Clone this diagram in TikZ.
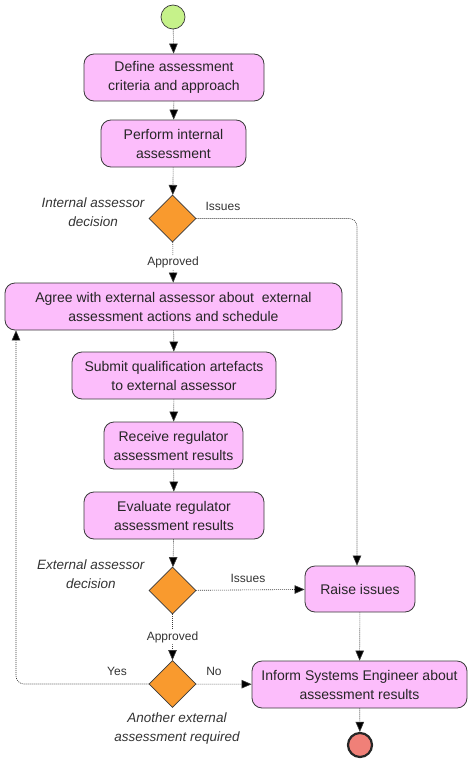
\documentclass[tikz,border=0pt]{standalone}
\usepackage{fontspec}
\setmainfont{Liberation Sans}
\usetikzlibrary{shapes.geometric,arrows.meta}
\definecolor{actfill}{HTML}{FCBDFB}
\definecolor{decfill}{HTML}{F99A2E}
\definecolor{startfill}{HTML}{C6F28A}
\definecolor{endfill}{HTML}{F08078}
\definecolor{edgecol}{HTML}{3A3A3A}
\begin{document}
\begin{tikzpicture}[x=1pt,y=-1pt,
  activity/.style={draw=edgecol,line width=0.8pt,fill=actfill,rounded corners=10pt,
    align=center,inner sep=0pt,text=black!85,font=\fontsize{14}{19}\selectfont},
  decision/.style={draw=edgecol,line width=0.7pt,fill=decfill,diamond,
    minimum width=47pt,minimum height=47pt,inner sep=0pt},
  flow/.style={draw=edgecol,line width=0.6pt,dash pattern=on 1pt off 1pt,
    -{Triangle[length=10pt,width=8.5pt,fill=black]},rounded corners=8pt},
  guard/.style={font=\fontsize{12}{14}\selectfont,text=black!80},
  note/.style={font=\fontsize{13.5}{19}\itshape\selectfont,align=center,text=black!80}]
\useasboundingbox (0,0) rectangle (468,760);

% initial and final nodes
\node[circle,draw=edgecol,line width=0.7pt,fill=startfill,minimum size=24pt,inner sep=0pt] (start) at (173,17) {};
\node[circle,draw=black!85,line width=2.2pt,fill=endfill,minimum size=24pt,inner sep=0pt] (stop) at (360,745) {};

% actions
\node[activity,minimum width=180pt,minimum height=47pt] (define) at (174,77.5) {Define assessment\\criteria and approach};
\node[activity,minimum width=145pt,minimum height=47pt] (internal) at (173.5,143.5) {Perform internal\\assessment};
\node[activity,minimum width=337pt,minimum height=47pt] (agree) at (173.5,306.5) {Agree with external assessor about\ \ external\\assessment actions and schedule};
\node[activity,minimum width=204pt,minimum height=47pt] (submit) at (174,375.5) {Submit qualification artefacts\\to external assessor};
\node[activity,minimum width=139pt,minimum height=47pt] (receive) at (173.5,445.5) {Receive regulator\\assessment results};
\node[activity,minimum width=180pt,minimum height=47pt] (evaluate) at (174,515.5) {Evaluate regulator\\assessment results};
\node[activity,minimum width=110pt,minimum height=46pt] (raise) at (360,589) {Raise issues};
\node[activity,minimum width=215pt,minimum height=47pt] (inform) at (359.5,684.5) {Inform Systems Engineer about\\assessment results};

% decisions
\node[decision] (d1) at (172.5,218.5) {};
\node[decision] (d2) at (172.5,590.5) {};
\node[decision] (d3) at (172.5,684) {};

% decision captions
\node[note,anchor=east] (n1) at (148,212) {Internal assessor\\decision};
\node[note,anchor=east] (n2) at (148,574) {External assessor\\decision};
\node[note] (n3) at (177,729) {Another external\\assessment required};

% control flow
\draw[flow] (start) -- (define);
\draw[flow] (define) -- (internal);
\draw[flow] (internal) -- (d1);
\draw[flow] (d1) -- node[guard,fill=white,inner sep=1.5pt] {Approved} (agree);
\coordinate (c1) at (357,218.5);
\draw[flow] (d1.east) -- (c1) -- (raise.north -| c1);
\node[guard] (g1) at (223,206) {Issues};
\draw[flow] (agree) -- (submit);
\draw[flow] (submit) -- (receive);
\draw[flow] (receive) -- (evaluate);
\draw[flow] (evaluate) -- (d2);
\draw[flow] (d2) -- (raise);
\node[guard] (g2) at (248,578) {Issues};
\draw[flow] (d2) -- node[guard,fill=white,inner sep=1.5pt] {Approved} (d3);
\draw[flow] (raise) -- (inform);
\draw[flow] (d3) -- (inform);
\node[guard] (g3) at (214,671) {No};
\coordinate (c2) at (16,684);
\draw[flow] (d3.west) -- (c2) -- (agree.south -| c2);
\node[guard] (g4) at (117,671) {Yes};
\draw[flow] (inform) -- (stop);
\end{tikzpicture}
\end{document}
